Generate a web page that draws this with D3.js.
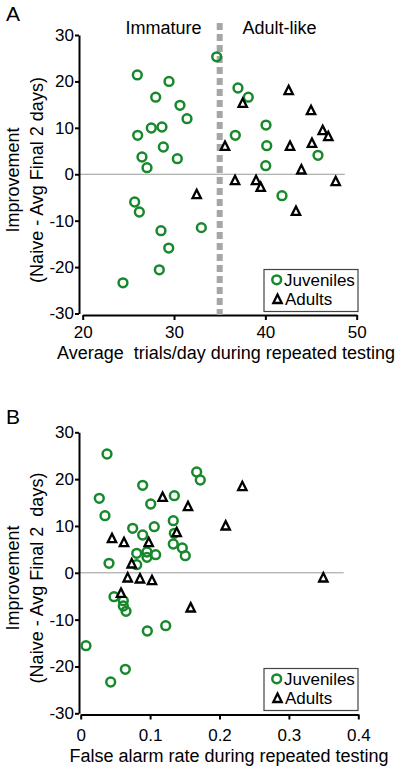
<!DOCTYPE html>
<html>
<head>
<meta charset="utf-8">
<script src="https://cdn.jsdelivr.net/npm/d3@7"></script>
<style>
  html, body { margin: 0; padding: 0; background: #fff; }
  svg { display: block; }
  text { font-family: "Liberation Sans", Arial, sans-serif; fill: #000; }
</style>
</head>
<body>
<svg id="chart" width="400" height="772"></svg>
<script>
// ---------- Panel A data ----------
const juvA_x = [34.67, 25.98, 29.45, 27.99, 30.65, 31.42, 26.02, 27.51, 28.68, 28.83, 26.49, 27.04, 30.36, 37.0, 38.13, 36.71, 40.07, 40.15, 40.04, 45.76, 41.82, 25.69, 26.2, 28.57, 29.42, 28.39, 24.41, 32.99];
const juvA_y = [25.3, 21.4, 20.0, 16.6, 14.85, 11.97, 8.39, 9.96, 10.18, 5.87, 3.72, 1.41, 3.35, 18.58, 16.6, 8.39, 10.6, 6.15, 1.84, 4.08, -4.62, -5.98, -8.13, -12.16, -15.9, -20.6, -23.4, -11.5];
const adA_x = [35.58, 37.52, 42.55, 45.0, 46.28, 46.89, 42.7, 45.1, 43.94, 36.68, 38.98, 39.49, 47.7, 32.48, 43.35];
const adA_y = [6.15, 15.4, 18.15, 13.84, 9.53, 8.24, 6.15, 6.8, 1.07, -1.24, -1.24, -2.68, -1.45, -4.25, -7.85];
const xTicksA = [20, 30, 40, 50];
const cutoffA = 35;

// ---------- Panel B data ----------
const juvB_x = [0.0379, 0.0268, 0.035, 0.0408, 0.0893, 0.1009, 0.0749, 0.0893, 0.106, 0.0807, 0.0955, 0.0955, 0.108, 0.0807, 0.1349, 0.1334, 0.1349, 0.1334, 0.1464, 0.1507, 0.1671, 0.1723, 0.048, 0.0614, 0.0614, 0.0653, 0.096, 0.1225, 0.0076, 0.0432, 0.0643];
const juvB_y = [25.37, 15.9, 12.19, 2.03, 18.68, 14.69, 9.5, 8.07, 9.84, 4.16, 4.44, 3.31, 3.87, 1.73, 16.46, 11.13, 8.43, 6.15, 5.3, 3.65, 21.52, 19.82, -5.1, -5.96, -7.09, -8.22, -12.43, -11.3, -15.57, -23.32, -20.6];
const adB_x = [0.118, 0.1546, 0.2329, 0.2089, 0.1383, 0.0451, 0.0624, 0.098, 0.0735, 0.0677, 0.0854, 0.1027, 0.0581, 0.1585, 0.3496];
const adB_y = [16.25, 14.26, 18.53, 10.14, 8.71, 7.43, 6.58, 6.58, 2.03, -0.96, -1.17, -1.54, -4.25, -7.37, -0.96];
const xTicksB = [0, 0.1, 0.2, 0.3, 0.4];

const yTicks = [-30, -20, -10, 0, 10, 20, 30];
const legendLabels = ["Juveniles", "Adults"];

const GREEN = "#17882b";
const svg = d3.select("#chart");

function triPath(cx, cy) {
  const h = 8.4, w = 4.2;
  return `M${cx},${cy - h / 2}L${cx + w},${cy + h / 2}L${cx - w},${cy + h / 2}Z`;
}

function drawPanel(o) {
  const g = svg.append("g");
  const x = d3.scaleLinear().domain(o.xDomain).range(o.xRange);
  const y = d3.scaleLinear().domain([-30, 30]).range(o.yRange);

  // zero reference line
  g.append("line")
    .attr("x1", o.yAxisX).attr("x2", x(o.zeroEnd))
    .attr("y1", y(0)).attr("y2", y(0))
    .attr("stroke", "#9a9a9a").attr("stroke-width", 1);

  // y axis
  const ya = g.append("g").attr("transform", `translate(${o.yAxisX},0)`)
    .call(d3.axisLeft(y).tickValues(yTicks).tickFormat(d => String(d)).tickSize(4).tickPadding(1).tickSizeOuter(0));
  ya.select(".domain").attr("stroke", "#000").attr("stroke-width", 2);
  ya.selectAll(".tick line").attr("stroke", "#000").attr("stroke-width", 2);
  ya.selectAll(".tick text").style("font-size", "17px").style("font-family", "Liberation Sans, Arial, sans-serif");

  // x axis
  const xa = g.append("g").attr("transform", `translate(0,${o.xAxisY})`)
    .call(d3.axisBottom(x).tickValues(o.xTicks).tickFormat(o.fmt).tickSize(5).tickPadding(o.xPad).tickSizeOuter(0));
  xa.select(".domain").attr("stroke", "#000").attr("stroke-width", 2);
  xa.selectAll(".tick line").attr("stroke", "#000").attr("stroke-width", 2);
  xa.selectAll(".tick text").style("font-size", "17px").style("font-family", "Liberation Sans, Arial, sans-serif");

  if (o.cutoff !== undefined) {
    g.append("line")
      .attr("x1", x(o.cutoff)).attr("x2", x(o.cutoff))
      .attr("y1", o.cutTop).attr("y2", o.xAxisY)
      .attr("stroke", "#a6a6a6").attr("stroke-width", 6)
      .attr("stroke-dasharray", "7,4");
    g.append("text").attr("x", 163.5).attr("y", 34).attr("text-anchor", "middle")
      .style("font-size", "18px").text("Immature");
    g.append("text").attr("x", 279.5).attr("y", 34).attr("text-anchor", "middle")
      .style("font-size", "18px").text("Adult-like");
  }

  // juveniles
  g.append("g").selectAll("circle")
    .data(o.jx.map((v, i) => [v, o.jy[i]]))
    .join("circle")
    .attr("cx", d => x(d[0])).attr("cy", d => y(d[1]))
    .attr("r", 4.4).attr("fill", "none")
    .attr("stroke", GREEN).attr("stroke-width", 2.5);

  // adults
  g.append("g").selectAll("path")
    .data(o.ax.map((v, i) => [v, o.ay[i]]))
    .join("path")
    .attr("d", d => triPath(x(d[0]), y(d[1])))
    .attr("fill", "#fff").attr("stroke", "#000").attr("stroke-width", 2.3)
    .attr("stroke-linejoin", "miter");

  // legend
  const lg = g.append("g").attr("transform", `translate(${o.legX},${o.legY})`);
  lg.append("rect").attr("x", 0).attr("y", 0).attr("width", 94).attr("height", 42)
    .attr("fill", "#fff").attr("stroke", "#444").attr("stroke-width", 1.2);
  lg.append("circle").attr("cx", 12.7).attr("cy", 10.3).attr("r", 4.4)
    .attr("fill", "none").attr("stroke", GREEN).attr("stroke-width", 2.5);
  lg.append("text").attr("x", 20).attr("y", 16).style("font-size", "17px").text(legendLabels[0]);
  lg.append("path").attr("d", triPath(13.5, 29.3))
    .attr("fill", "#fff").attr("stroke", "#000").attr("stroke-width", 2.3);
  lg.append("text").attr("x", 21).attr("y", 35).style("font-size", "17px").text(legendLabels[1]);

  // panel letter
  g.append("text").attr("x", 6).attr("y", o.letterY).style("font-size", "21px").text(o.letter);

  // y label
  const yl = g.append("text").attr("transform", `translate(19,${o.yLabelCY}) rotate(-90)`)
    .attr("text-anchor", "middle").style("font-size", "18px");
  yl.append("tspan").attr("x", 0).attr("y", 0).text("Improvement");
  yl.append("tspan").attr("x", 0).attr("y", 24).attr("xml:space", "preserve").style("white-space", "pre").text(o.yLabel2);

  // x label
  g.append("text").attr("x", o.xLabelX).attr("y", o.xLabelY).attr("text-anchor", "middle")
    .style("font-size", "18px").style("white-space", "pre").text(o.xLabel);
}

drawPanel({
  xDomain: [20, 50], xRange: [82.7, 356.7], yRange: [313.5, 35],
  yAxisX: 79, xAxisY: 315, xTicks: xTicksA, fmt: d => String(d), xPad: 6,
  zeroEnd: 48.7, cutoff: cutoffA, cutTop: 23,
  jx: juvA_x, jy: juvA_y, ax: adA_x, ay: adA_y,
  legX: 264, legY: 269.5,
  letter: "A", letterY: 21,
  yLabelCY: 180, yLabel2: "(Naive - Avg Final 2 days)",
  xLabel: "Average  trials/day during repeated testing", xLabelX: 226, xLabelY: 359
});

drawPanel({
  xDomain: [0, 0.4], xRange: [80.7, 358.3], yRange: [713.3, 432.3],
  yAxisX: 79, xAxisY: 714.5, xTicks: xTicksB, fmt: d => d === 0 ? "0" : d3.format(".1f")(d), xPad: 9,
  zeroEnd: 0.379,
  jx: juvB_x, jy: juvB_y, ax: adB_x, ay: adB_y,
  legX: 264, legY: 668.5,
  letter: "B", letterY: 424,
  yLabelCY: 578, yLabel2: "(Naive - Avg Final 2  days)",
  xLabel: "False alarm rate during repeated testing", xLabelX: 229, xLabelY: 762
});
</script>
</body>
</html>
